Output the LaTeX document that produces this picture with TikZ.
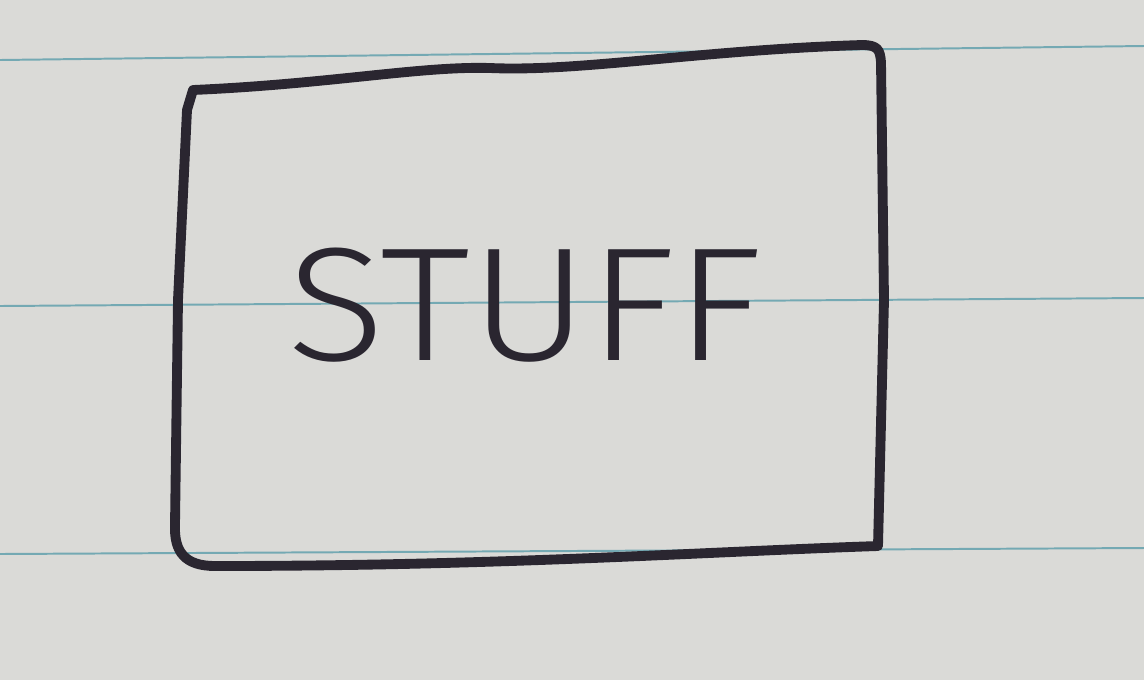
\documentclass[tikz,border=0pt]{standalone}
\usepackage{fontspec}
\usepackage{tikz}
\usepackage{xcolor}
\usetikzlibrary{positioning,calc}
\newfontfamily\handfont{Fira Sans Light}
\definecolor{paper}{HTML}{DADAD7}
\definecolor{rule}{HTML}{74A9B3}
\definecolor{ink}{HTML}{2A2630}

\begin{document}
\begin{tikzpicture}[x=0.025cm, y=-0.025cm, font=\handfont]
            \fill[paper] (0,0) rectangle (1144,680);
            \useasboundingbox (0,0) rectangle (1144,680);
            % ruled lines of the sheet
            \foreach \ya/\yb in {60/46, 306/298, 554/548}
                \draw[rule, line width=1.4pt] (0,\ya)--(1144,\yb);
            % the box
            \draw[ink, line width=7pt, line join=round, line cap=round]
                (193,90) .. controls (330,84) and (420,66) .. (490,68)
                .. controls (580,72) and (700,50) .. (862,45)
                .. controls (878,45) and (880,50) .. (881,62)
                -- (884,300) -- (878,546)
                .. controls (700,552) and (500,566) .. (215,566)
                .. controls (185,566) and (174,552) .. (175,525)
                -- (178,300) -- (187,110) -- cycle;
            \node (stuff) at (525,305) [ink, xscale=1.12, inner sep=0pt]
                {\fontsize{115}{115}\selectfont STUFF};
        \end{tikzpicture}
\end{document}
